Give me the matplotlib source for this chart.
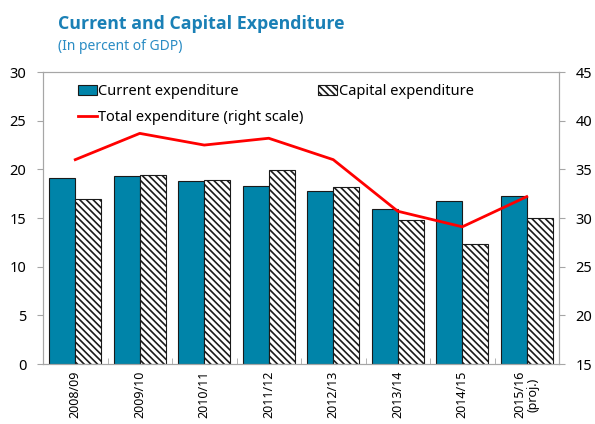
import numpy as np
import matplotlib
matplotlib.use('Agg')
import matplotlib.pyplot as plt
from matplotlib.patches import Patch
from matplotlib.lines import Line2D

plt.rcParams['font.family'] = ['Noto Sans', 'DejaVu Sans']
plt.rcParams['hatch.linewidth'] = 1.2

years = ['2008/09', '2009/10', '2010/11', '2011/12', '2012/13', '2013/14', '2014/15', '2015/16\n(proj.)']
current = [19.1, 19.3, 18.8, 18.3, 17.8, 15.9, 16.8, 17.3]
capital = [17.0, 19.4, 18.9, 19.9, 18.2, 14.8, 12.3, 15.0]
total = [36.0, 38.7, 37.5, 38.2, 36.0, 30.7, 29.1, 32.2]

teal = '#0084A9'
grey = '#A6A6A6'
hatch = '\\' * 5

fig = plt.figure(figsize=(5.95, 4.24), dpi=100)
ax = fig.add_axes([0.0723, 0.1415, 0.8672, 0.6885])
ax2 = ax.twinx()

x = np.arange(len(years))
w = 0.4
ax.bar(x - w / 2, current, w, color=teal, edgecolor='#1a1a1a', linewidth=0.8)
ax.bar(x + w / 2, capital, w, color='white', edgecolor='#1a1a1a', linewidth=0.8, hatch=hatch)
ax2.plot(x, total, color='#FF0000', linewidth=2)

ax.set_xlim(-0.5, len(years) - 0.5)
ax.set_ylim(0, 30)
ax.set_yticks(range(0, 31, 5))
ax2.set_ylim(15, 45)
ax2.set_yticks(range(15, 46, 5))

ax.set_xticks(x, years, rotation=90, fontsize=9, va='top', ha='center', linespacing=1.0)
ax.tick_params(axis='x', length=0, pad=5)
ax.set_xticks(np.arange(0.5, len(years) - 1, 1), minor=True)
ax.tick_params(axis='x', which='minor', length=4, direction='in', color=grey)

ax.tick_params(axis='y', length=4, direction='out', color=grey, labelsize=10.5, pad=8)
ax2.tick_params(axis='y', length=4, direction='out', color=grey, labelsize=10.5, pad=8)

for a in (ax, ax2):
    for s in a.spines.values():
        s.set_color(grey)

handles = [Patch(facecolor=teal, edgecolor='#1a1a1a', linewidth=0.8),
           Line2D([0], [0], color='#FF0000', linewidth=2),
           Patch(facecolor='white', edgecolor='#1a1a1a', linewidth=0.8, hatch=hatch)]
labels = ['Current expenditure', 'Total expenditure (right scale)', 'Capital expenditure']
ax2.legend(handles, labels, ncol=2, frameon=False, loc='upper left',
           bbox_to_anchor=(0.045, 1.0), fontsize=10.5, handlelength=1.3,
           handletextpad=0.1, columnspacing=1.0, labelspacing=0.75,
           borderaxespad=0.4)

fig.text(0.098, 0.932, 'Current and Capital Expenditure', fontsize=12.8,
         fontweight='bold', color='#1A80B6', va='baseline',
         family=['Open Sans', 'DejaVu Sans'])
fig.text(0.098, 0.882, '(In percent of GDP)', fontsize=10, color='#2A8CC4', va='baseline')

plt.savefig('out.png', dpi=100)
